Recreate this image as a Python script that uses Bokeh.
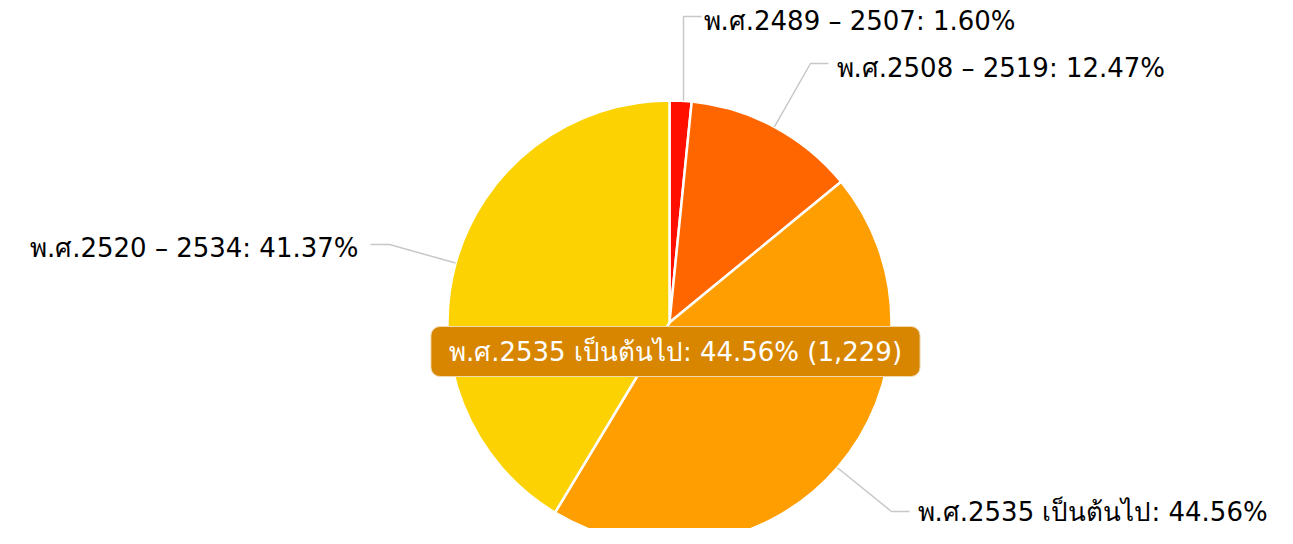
import numpy as np
from bokeh.plotting import figure
from bokeh.models import Range1d, Label, ColumnDataSource
from bokeh.embed import file_html
from bokeh.resources import INLINE

# ---- data ----
periods = ["พ.ศ.2489 – 2507", "พ.ศ.2508 – 2519", "พ.ศ.2535 เป็นต้นไป", "พ.ศ.2520 – 2534"]
counts = [44, 344, 1229, 1141]
colors = ["#FF0F00", "#FF6600", "#FF9E01", "#FCD202"]
hover_index = 2

W, H = 1277, 528
FONT = "DejaVu Sans"

def X(ix):
    return ix

def Y(iy):
    return H - iy

p = figure(width=W, height=H, output_backend="svg", toolbar_location=None,
           x_range=Range1d(0, W), y_range=Range1d(0, H), min_border=0)
p.axis.visible = False
p.grid.visible = False
p.outline_line_color = None
p.background_fill_color = "white"

total = float(sum(counts))
frac = np.array(counts) / total
cum = np.concatenate([[0.0], np.cumsum(frac)])
start = np.pi / 2 - 2 * np.pi * cum[:-1]
end = np.pi / 2 - 2 * np.pi * cum[1:]
mid = (start + end) / 2

cx, cy, r = X(669), Y(322), 222
src = ColumnDataSource(dict(start=start, end=end, color=colors))
p.wedge(x=cx, y=cy, radius=r, start_angle="start", end_angle="end", direction="clock",
        fill_color="color", line_color="white", line_width=2.5, source=src)

pct = [f"{f*100:.2f}%" for f in frac]
labels = [f"{n}: {pc}" for n, pc in zip(periods, pct)]

# label layout (image px): elbow point, line end, text anchor, align
layout = [
    dict(elbow=(683, 16), end=(701, 16), text=(703, 20), align="left"),
    dict(elbow=(810, 63), end=(828, 63), text=(836, 67), align="left"),
    dict(elbow=(891, 511), end=(909, 511), text=(917, 511), align="left"),
    dict(elbow=(389, 244), end=(370, 244), text=(358, 247), align="right"),
]

for i, lay in enumerate(layout):
    sx = cx + r * np.cos(mid[i])
    sy = cy + r * np.sin(mid[i])
    if i == 0:
        sx = X(lay["elbow"][0])
    xs = [sx, X(lay["elbow"][0]), X(lay["end"][0])]
    ys = [sy, Y(lay["elbow"][1]), Y(lay["end"][1])]
    p.line(xs, ys, line_color="#c8c8c8", line_width=1.5)
    p.add_layout(Label(x=X(lay["text"][0]), y=Y(lay["text"][1]), text=labels[i],
                       text_align=lay["align"], text_baseline="middle",
                       text_font=FONT, text_font_size="26px", text_color="#000000"))

# hover balloon
tip = f"{periods[hover_index]}: {pct[hover_index]} ({counts[hover_index]:,})"
p.add_layout(Label(x=X(675), y=Y(351), text=tip, text_align="center", text_baseline="middle",
                   text_font=FONT, text_font_size="26px", text_color="white",
                   background_fill_color="#D88600", background_fill_alpha=1.0,
                   border_line_color="#F0D8B0", border_line_width=1,
                   border_radius=9, padding=dict(left=18, right=18, top=10, bottom=10)))

open("out.html", "w").write(file_html(p, INLINE))
